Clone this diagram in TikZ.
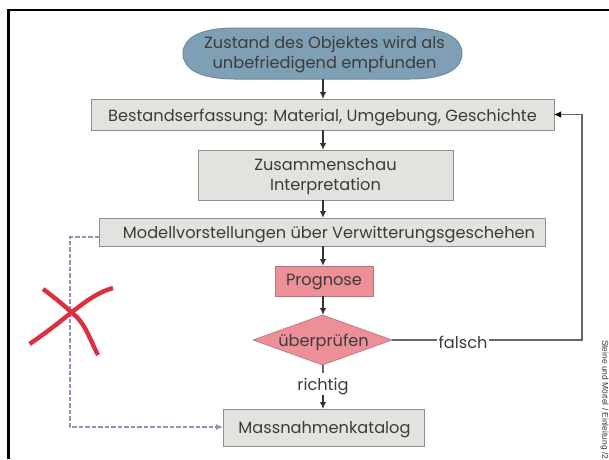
\documentclass[tikz,border=0pt]{standalone}
\usepackage{fontspec}
\setmainfont{Poppins}
\newfontfamily\sidefont{Liberation Sans}
\usetikzlibrary{arrows.meta,shapes.geometric}
\newcommand{\lowr}[2]{\raisebox{-#1pt}[\height][\depth]{#2}}
\definecolor{txt}{HTML}{3C3C3C}
\definecolor{boxfill}{HTML}{E2E2DE}
\definecolor{boxline}{HTML}{8E8E8A}
\definecolor{pinkfill}{HTML}{EC8F99}
\definecolor{pinkline}{HTML}{B4757B}
\definecolor{bluefill}{HTML}{7F9FB5}
\definecolor{blueline}{HTML}{6F8C9F}
\definecolor{dashcol}{HTML}{7A72A8}
\definecolor{crosscol}{HTML}{DC3040}
\tikzset{
  x=1pt,y=-1pt,
  every node/.style={font=\fontsize{16.2}{20}\selectfont,text=txt,align=center,inner sep=0pt,outer sep=0pt},
  graybox/.style={draw=boxline,fill=boxfill,line width=1pt,rectangle},
  pinkbox/.style={draw=pinkline,fill=pinkfill,line width=1pt,rectangle},
  flow/.style={draw=black!80,line width=1.3pt,-{Latex[length=7pt,width=6.5pt]}},
  plainline/.style={draw=black!60,line width=1.3pt},
  dashline/.style={draw=dashcol!80,line width=1.2pt,dash pattern=on 4.5pt off 2pt},
  redstroke/.style={draw=crosscol,line width=4.4pt},
}
\begin{document}
\begin{tikzpicture}
\useasboundingbox (0,0) rectangle (609,459);
\fill[white] (0,0) rectangle (609,459);
\draw[black,line width=2.6pt] (8.5,459) -- (8.5,10) -- (609,10);
\draw[draw=blueline,fill=bluefill,line width=1pt] (235,28) -- (410,28) .. controls (445,28) and (462,38) .. (462,53.5) .. controls (462,69) and (445,79) .. (410,79) -- (235,79) .. controls (200,79) and (183,69) .. (183,53.5) .. controls (183,38) and (200,28) .. (235,28) -- cycle;
\node[minimum width=279pt,minimum height=51pt] (start) at (322.5,53.5) {\lowr{1}{\hspace{4pt}Zustand des Objektes wird als}\\\lowr{1}{\hspace{4pt}unbefriedigend empfunden}};
\node[graybox,minimum width=463pt,minimum height=31pt] (best) at (322.5,114.5) {\lowr{3}{Bestandserfassung: Material, Umgebung, Geschichte}};
\node[graybox,minimum width=255pt,minimum height=50pt] (zus) at (325.5,175) {\lowr{1.5}{Zusammenschau}\\\lowr{1.5}{Interpretation}};
\node[graybox,minimum width=446pt,minimum height=28pt] (mod) at (322,232) {\lowr{3}{\hspace{14pt}Modellvorstellungen über Verwitterungsgeschehen}};
\node[pinkbox,minimum width=98pt,minimum height=30pt] (prog) at (324,281) {\lowr{1.5}{Prognose}};
\node[diamond,draw=pinkline,fill=pinkfill,line width=.6pt,aspect=2.78,minimum width=139pt,minimum height=50pt] (pruef) at (322.5,340) {\lowr{2}{\hspace{2pt}überprüfen}};
\node[graybox,minimum width=201pt,minimum height=37pt] (mass) at (323.5,427.5) {\lowr{2}{\hspace{2pt}Massnahmenkatalog}};
\node[outer sep=2pt] (falsch) at (463,340) {\lowr{2}{falsch}};
\node[outer sep=3pt] (richtig) at (323,384) {\lowr{2.5}{richtig}};
\coordinate (cr) at (582,340);
\coordinate (dl1) at (70,237);
\coordinate (dl2) at (70,427);
\draw[flow] (start.south -| 323,0) -- (best.north -| 323,0);
\draw[flow] (best.south -| 323,0) -- (zus.north -| 323,0);
\draw[flow] (zus.south -| 323,0) -- (mod.north -| 323,0);
\draw[flow] (mod.south -| 323,0) -- (prog.north -| 323,0);
\draw[flow] (prog.south -| 323,0) -- (pruef.north -| 323,0);
\draw[plainline] (pruef.south -| 323,0) -- (richtig.north -| 323,0);
\draw[flow] (richtig.south -| 323,0) -- (mass.north -| 323,0);
\draw[plainline] (pruef.east) -- (falsch.west);
\draw[plainline,-{Latex[length=7pt,width=6.5pt,color=black]}] (falsch.east) -- (cr) |- (best.east);
\draw[dashline,-{Latex[length=7pt,width=6pt]}] (mod.west |- dl1) -- (dl1) -- (dl2) -- (mass.west |- dl2);
\draw[redstroke] (43,289) .. controls (55,298) and (65,306) .. (72,313) .. controls (85,322) and (90,340) .. (98,355);
\draw[redstroke] (29.5,344) .. controls (50,330) and (62,320) .. (72,312) .. controls (85,302) and (98,292) .. (113,288);
\begin{scope}
\clip (589,330) rectangle (609,459);
\node[font=\sidefont\fontsize{8.4}{9}\selectfont,text=black!80,rotate=-90,anchor=west] (side) at (604.5,340) {Steine und Mörtel / Einleitung /2};
\end{scope}
\end{tikzpicture}
\end{document}
